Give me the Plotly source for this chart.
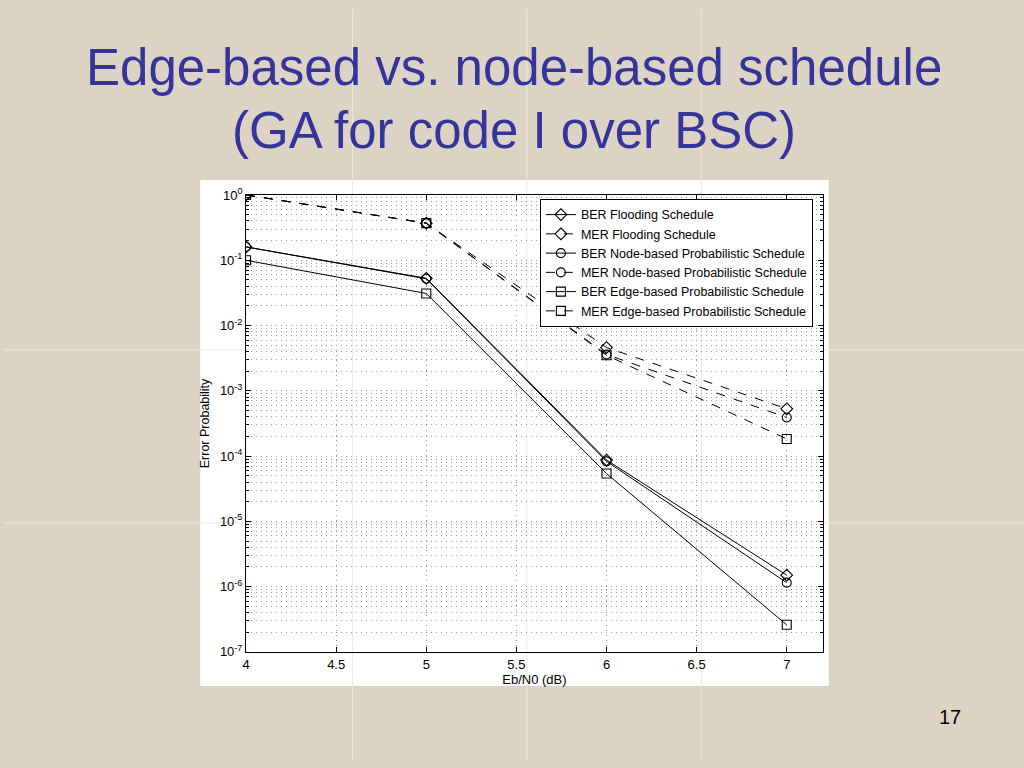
import plotly.graph_objects as go

# ---- data ----
ebn0 = [4, 5, 6, 7]
ber_flood = [0.16, 0.053, 8.7e-5, 1.5e-6]
mer_flood = [1.0, 0.37, 4.6e-3, 5.3e-4]
ber_node = [0.16, 0.052, 8.3e-5, 1.15e-6]
mer_node = [1.0, 0.37, 3.6e-3, 3.9e-4]
ber_edge = [0.1, 0.031, 5.4e-5, 2.6e-7]
mer_edge = [1.0, 0.37, 3.5e-3, 1.83e-4]

series_names = [
    "BER Flooding Schedule",
    "MER Flooding Schedule",
    "BER Node-based Probabilistic Schedule",
    "MER Node-based Probabilistic Schedule",
    "BER Edge-based Probabilistic Schedule",
    "MER Edge-based Probabilistic Schedule",
]
series_values = [ber_flood, mer_flood, ber_node, mer_node, ber_edge, mer_edge]
series_symbols = ["diamond-open", "diamond-open", "circle-open", "circle-open",
                  "square-open", "square-open"]
series_dash = ["solid", "dash", "solid", "dash", "solid", "dash"]

x_ticks = [4, 4.5, 5, 5.5, 6, 6.5, 7]
x_ticklabels = ["4", "4.5", "5", "5.5", "6", "6.5", "7"]
y_exps = [0, -1, -2, -3, -4, -5, -6, -7]

title_line1 = "Edge-based vs. node-based schedule"
title_line2 = "(GA for code I over BSC)"
page_number = "17"

# ---- figure ----
W, H = 1024, 768


def px(xp):
    return xp / W


def py(yp):
    # the page is photographed slightly squeezed vertically; compensate
    return 1 - ((yp - 9) / 0.978) / H


fig = go.Figure()

for name, vals, sym, dash in zip(series_names, series_values, series_symbols, series_dash):
    fig.add_trace(go.Scatter(
        x=ebn0, y=vals, name=name, mode="lines+markers",
        line=dict(color="black", width=1, dash=dash),
        marker=dict(symbol=sym, size=9, color="black", line=dict(color="black", width=1.1)),
    ))

FONT = "Liberation Sans, Arial, sans-serif"
GRID = "#9c9c9c"
GRIDDASH = "1px,4px"

fig.update_layout(
    width=W, height=H,
    margin=dict(l=0, r=0, t=0, b=0),
    paper_bgcolor="#DDD3C4",
    plot_bgcolor="white",
    font=dict(family=FONT, color="black", size=12),
    showlegend=True,
    legend=dict(
        x=px(538), y=py(199), xanchor="left", yanchor="top",
        bgcolor="white", bordercolor="black", borderwidth=1,
        font=dict(family=FONT, size=12.5, color="black"),
        tracegroupgap=0, itemwidth=30,
    ),
    xaxis=dict(
        domain=[px(243), px(822)], range=[4, 7.2],
        tickmode="array", tickvals=x_ticks, ticktext=x_ticklabels,
        ticks="inside", ticklen=5, tickcolor="black",
        showline=True, linecolor="black", linewidth=1, mirror="ticks",
        showgrid=True, gridcolor=GRID, griddash=GRIDDASH, gridwidth=1,
        zeroline=False,
        title=dict(text="Eb/N0 (dB)", font=dict(size=13, color="black"), standoff=2),
        tickfont=dict(size=13, color="black"),
    ),
    yaxis=dict(
        domain=[py(652), py(195)], type="log", range=[-7, 0],
        tickmode="array", tickvals=[10 ** e for e in y_exps],
        ticktext=[f"10<sup>{e}</sup>" for e in y_exps],
        ticks="inside", ticklen=5, tickcolor="black",
        showline=True, linecolor="black", linewidth=1, mirror="ticks",
        showgrid=True, gridcolor=GRID, griddash=GRIDDASH, gridwidth=1,
        minor=dict(dtick="D1", showgrid=True, gridcolor=GRID, griddash=GRIDDASH,
                   ticks="inside", ticklen=3, tickcolor="black"),
        zeroline=False,
        title=dict(text="Error Probability", font=dict(size=12.5, color="black"), standoff=7),
        tickfont=dict(size=13, color="black"),
    ),
    shapes=[
        dict(type="rect", xref="paper", yref="paper", layer="below",
             x0=px(197), x1=px(828), y0=py(686), y1=py(180),
             fillcolor="white", line=dict(width=0)),
    ] + [
        dict(type="line", xref="paper", yref="paper", layer="below",
             x0=px(xv), x1=px(xv), y0=0, y1=1,
             line=dict(color="#EEE8DE", width=1))
        for xv in [350, 525, 700]
    ] + [
        dict(type="line", xref="paper", yref="paper", layer="below",
             x0=0, x1=1, y0=py(yv), y1=py(yv),
             line=dict(color="#EEE8DE", width=1))
        for yv in [350, 523]
    ],
    annotations=[
        dict(text=title_line1, xref="paper", yref="paper", x=0.5, y=py(68),
             xanchor="center", yanchor="middle", showarrow=False,
             font=dict(family=FONT, size=51, color="#34349A")),
        dict(text=title_line2, xref="paper", yref="paper", x=0.5, y=py(131),
             xanchor="center", yanchor="middle", showarrow=False,
             font=dict(family=FONT, size=51, color="#34349A")),
        dict(text=page_number, xref="paper", yref="paper", x=px(950), y=py(717),
             xanchor="center", yanchor="middle", showarrow=False,
             font=dict(family=FONT, size=20, color="black")),
    ],
)

post = (
    "var s=document.createElement('style');"
    "s.textContent='html,body{margin:0;padding:0;overflow:hidden;width:1024px;height:768px;}"
    "body>div{display:block;height:768px;overflow:hidden;}';"
    "document.head.appendChild(s);"
)

fig.write_html(
    "out.html",
    config={"displayModeBar": False},
    post_script=post,
)
